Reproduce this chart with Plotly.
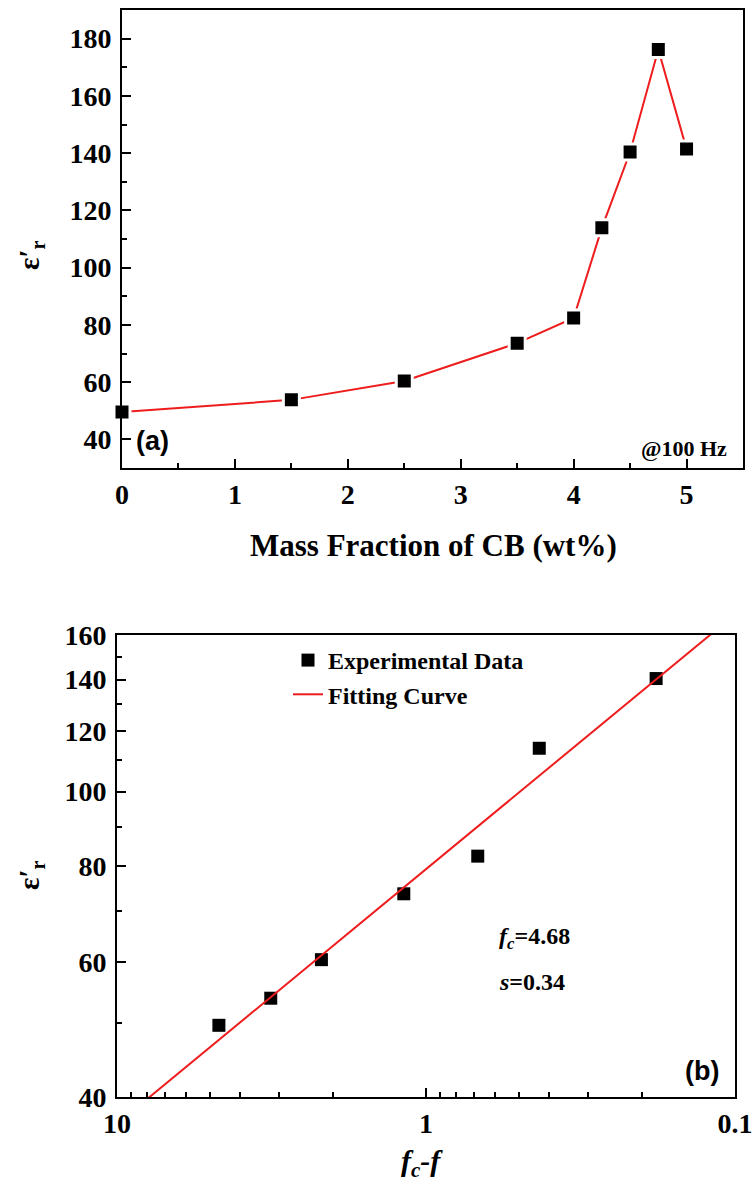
import plotly.graph_objects as go

W, H = 753, 1192

# ---------------- data ----------------
mass_fraction = [0, 1.5, 2.5, 3.5, 4.0, 4.25, 4.5, 4.75, 5.0]
eps_a = [49.6, 53.8, 60.4, 73.6, 82.4, 113.9, 140.4, 176.2, 141.4]

fc_minus_f = [4.68, 3.18, 2.18, 1.18, 0.68, 0.43, 0.18]
eps_b = [49.6, 53.8, 60.4, 73.6, 82.4, 113.9, 140.4]

fit_x = [10, 0.1]
fit_y = [36.9, 170.2]

xa_ticks = [0, 1, 2, 3, 4, 5]
ya_ticks = [40, 60, 80, 100, 120, 140, 160, 180]
xb_ticks = [10, 1, 0.1]
xb_ticktext = ["10", "1", "0.1"]
xb_minor = [9, 8, 7, 6, 5, 4, 3, 2, 0.9, 0.8, 0.7, 0.6, 0.5, 0.4, 0.3, 0.2]
yb_ticks = [40, 60, 80, 100, 120, 140, 160]
yb_minor = [50, 70, 90, 110, 130, 150]


def px(x):
    return x / W


def py(y):
    return 1 - y / H


SERIF = "Liberation Serif"
SANS = "Liberation Sans"
RED = "#ee1c1c"

fig = go.Figure()

# top panel
fig.add_trace(go.Scatter(
    x=mass_fraction, y=eps_a, mode="lines+markers",
    line=dict(color=RED, width=2),
    marker=dict(symbol="square", size=16, color="black",
                line=dict(color="white", width=3)),
    cliponaxis=False, showlegend=False, xaxis="x", yaxis="y"))

# bottom panel
fig.add_trace(go.Scatter(
    x=fc_minus_f, y=eps_b, mode="markers", name="Experimental Data",
    marker=dict(symbol="square", size=13, color="black"),
    xaxis="x2", yaxis="y2"))
fig.add_trace(go.Scatter(
    x=fit_x, y=fit_y, mode="lines", name="Fitting Curve",
    line=dict(color=RED, width=2),
    xaxis="x2", yaxis="y2"))

tickfont = dict(family=SERIF, size=28, color="black", weight="bold")
common = dict(showline=True, linecolor="black", linewidth=2, mirror=True,
              ticks="inside", ticklen=9, tickwidth=2, tickcolor="black",
              showgrid=False, zeroline=False, tickfont=tickfont,
              automargin=False, ticklabeloverflow="allow")
minor_common = dict(ticks="inside", ticklen=5, tickwidth=2,
                    tickcolor="black", showgrid=False)

fig.update_layout(
    width=W, height=H,
    margin=dict(l=0, r=0, t=0, b=0, autoexpand=False),
    paper_bgcolor="white", plot_bgcolor="white",
    xaxis=dict(domain=[px(122), px(743)], range=[0, 5.5],
               tickmode="array", tickvals=xa_ticks,
               minor=dict(dtick=0.5, tick0=0, **minor_common),
               anchor="y", **common),
    yaxis=dict(domain=[py(468), py(10)], range=[30, 190],
               tickmode="array", tickvals=ya_ticks, ticklabelstandoff=3,
               minor=dict(dtick=10, tick0=30, **minor_common),
               anchor="x", **common),
    xaxis2=dict(domain=[px(117), px(735)], type="log", range=[1, -1],
                tickmode="array", tickvals=xb_ticks, ticktext=xb_ticktext,
                minor=dict(tickvals=xb_minor, **minor_common),
                anchor="y2", **common),
    yaxis2=dict(domain=[py(1097), py(635)], type="log",
                range=[1.60206, 2.20412], ticklabelstandoff=3,
                tickmode="array", tickvals=yb_ticks,
                minor=dict(tickvals=yb_minor, **minor_common),
                anchor="x2", **common),
    legend=dict(x=px(288), y=py(638), xanchor="left", yanchor="top",
                font=dict(family=SERIF, size=24, color="black", weight="bold"),
                bgcolor="rgba(0,0,0,0)", tracegroupgap=0, itemwidth=30),
)

ann = []


def add_text(text, x, y, size, family=SERIF, angle=0):
    ann.append(dict(text=text, x=px(x), y=py(y), xref="paper", yref="paper",
                    xanchor="center", yanchor="middle", showarrow=False,
                    textangle=angle,
                    font=dict(family=family, size=size, color="black",
                              weight="bold")))


add_text("Mass Fraction of CB (wt%)", 433, 545, 31)
add_text("ε′<sub>r</sub>", 31, 255, 29, angle=-90)
add_text("(a)", 152, 441, 27, family=SANS)
add_text("@100 Hz", 684, 448, 22)

add_text("<i>f</i><sub><i>c</i></sub><i>-f</i>", 422, 1163, 30)
add_text("ε′<sub>r</sub>", 31, 875, 29, angle=-90)
add_text("<i>f</i><sub><i>c</i></sub>=4.68", 534, 938, 24)
add_text("<i>s</i>=0.34", 532, 982, 24)
add_text("(b)", 702, 1071, 27, family=SANS)

fig.update_layout(annotations=ann)

fig.write_html("out.html")
